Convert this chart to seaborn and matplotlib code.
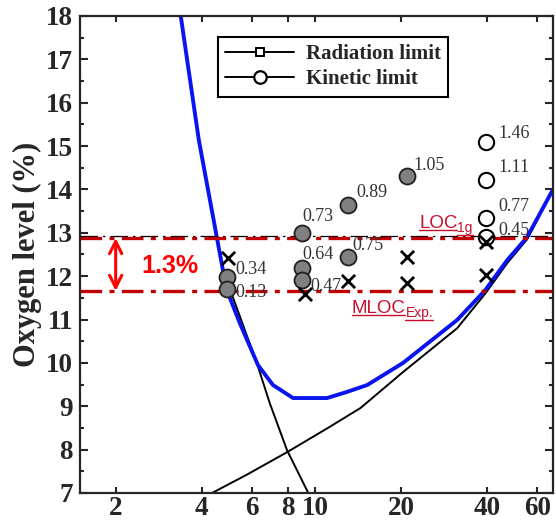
import matplotlib
matplotlib.use("Agg")
import matplotlib.pyplot as plt
from matplotlib.lines import Line2D
from matplotlib.ticker import FixedLocator, FixedFormatter, MultipleLocator, NullLocator
import pandas as pd
import seaborn as sns

# ---- curves ----
blue_x = [3.38, 3.91, 4.82, 4.9, 5.44, 6.3, 7.11, 8.36, 11.0, 12.9, 15.2, 20.3, 31.4, 39.4, 47.0, 55.2, 68.0]
blue_y = [18.0, 15.14, 11.91, 11.68, 10.92, 9.95, 9.49, 9.19, 9.19, 9.33, 9.49, 10.0, 10.99, 11.68, 12.37, 12.9, 14.0]

rad_x = [3.38, 3.91, 4.82, 5.11, 6.24, 6.93, 7.96, 9.42]
rad_y = [18.0, 15.14, 11.91, 11.57, 10.0, 9.07, 7.99, 7.02]

kin_x = [4.35, 5.75, 7.96, 11.2, 14.4, 20.3, 31.4, 39.4, 47.0, 55.2, 68.0]
kin_y = [7.0, 7.42, 7.94, 8.52, 8.96, 9.79, 10.8, 11.6, 12.3, 12.85, 14.0]

# ---- points ----
gray_x = [4.9, 4.9, 9.0, 9.0, 9.0, 13.0, 13.0, 20.9]
gray_y = [11.99, 11.71, 13.0, 12.2, 11.92, 13.63, 12.45, 14.3]
gray_lbl = ["0.34", "0.13", "0.73", "0.64", "0.47", "0.89", "0.75", "1.05"]

white_x = [39.7, 39.7, 39.7, 39.7]
white_y = [15.09, 14.22, 13.34, 12.90]
white_lbl = ["1.46", "1.11", "0.77", "0.45"]

cross_x = [4.95, 9.2, 13.0, 20.9, 20.9, 39.7, 39.7]
cross_y = [12.41, 11.6, 11.88, 12.45, 11.85, 12.79, 12.03]

loc_1g = 12.88
mloc_exp = 11.66
loc_ref = 12.93

xticks = [2, 4, 6, 8, 10, 20, 40, 60]

# label offsets in points (style only)
gray_off = [(6.5, 5), (6.5, -3), (0, 11.5), (0, 9.4), (5.8, -5), (6.5, 9.4), (3, 8), (5, 8)]
white_off = [(8.6, 6.5), (8.6, 8.6), (8.6, 8.6), (8.6, 5)]

sns.set_style("ticks")
plt.rcParams['font.family'] = ['Liberation Serif', 'DejaVu Serif']
plt.rcParams['axes.linewidth'] = 1.6

fig = plt.figure(figsize=(5.56, 5.22), dpi=100)
ax = fig.add_axes([80 / 556, 1 - 493 / 522, 473 / 556, 477 / 522])
ax.set_xscale("log")

sns.lineplot(x=rad_x, y=rad_y, ax=ax, color="black", lw=1.4, sort=False, estimator=None)
sns.lineplot(x=kin_x, y=kin_y, ax=ax, color="black", lw=1.4, sort=False, estimator=None)
sns.lineplot(x=blue_x, y=blue_y, ax=ax, color="#0a14f0", lw=2.8, sort=False, estimator=None)

ax.axhline(loc_ref, color="black", lw=0.9, dashes=(14, 4, 2, 4))
ax.axhline(loc_1g, color="#c00000", lw=2.4, dashes=(6.5, 2.2, 1.5, 2.2))
ax.axhline(mloc_exp, color="#c00000", lw=2.4, dashes=(6.5, 2.2, 1.5, 2.2))

sns.scatterplot(x=gray_x, y=gray_y, ax=ax, s=11.5 ** 2, color="#808080",
                edgecolor="#202020", linewidth=1.3, zorder=5)
sns.scatterplot(x=white_x, y=white_y, ax=ax, s=11 ** 2, color="white",
                edgecolor="black", linewidth=1.5, zorder=5)
sns.scatterplot(x=cross_x, y=cross_y, ax=ax, s=9.5 ** 2, marker="x", color="black",
                linewidth=2.0, zorder=6)

for x, y, t, off in zip(gray_x, gray_y, gray_lbl, gray_off):
    ax.annotate(t, (x, y), xytext=off, textcoords="offset points", ha="left",
                va="center", fontsize=13, color="#333333", zorder=7)
for x, y, t, off in zip(white_x, white_y, white_lbl, white_off):
    ax.annotate(t, (x, y), xytext=off, textcoords="offset points", ha="left",
                va="center", fontsize=13, color="#333333", zorder=7)

# 1.3 % arrow
ax.annotate("", xy=(2.0, loc_1g), xytext=(2.0, mloc_exp),
            arrowprops=dict(arrowstyle="<->", color="#ff0000", lw=2.2,
                            mutation_scale=22, shrinkA=0, shrinkB=0))
ax.text(3.09, 12.23, "1.3%", color="#ff0000", fontsize=18, fontweight="bold",
        family="Liberation Sans", ha="center", va="center")

ax.set_xlim(1.5, 68)
ax.set_ylim(7, 18)
ax.xaxis.set_major_locator(FixedLocator(xticks))
ax.xaxis.set_major_formatter(FixedFormatter([str(t) for t in xticks]))
ax.xaxis.set_minor_locator(NullLocator())
ax.yaxis.set_major_locator(MultipleLocator(1))
ax.yaxis.set_minor_locator(MultipleLocator(0.5))
ax.tick_params(axis="both", which="both", direction="in", top=True, right=True,
               width=1.5, labelsize=19.5)
ax.tick_params(axis="x", which="major", length=4.5, pad=2)
ax.tick_params(axis="y", which="major", length=6, pad=5)
ax.tick_params(axis="y", which="minor", length=3)
for lab in ax.get_xticklabels() + ax.get_yticklabels():
    lab.set_fontweight("bold")

ax.set_xlabel("")
ax.set_ylabel("Oxygen level (%)", fontsize=22, fontweight="bold", labelpad=3)

handles = [
    Line2D([], [], color="black", lw=1.4, marker="s", ms=6, mfc="white", mec="black", mew=1.4),
    Line2D([], [], color="black", lw=1.4, marker="o", ms=9, mfc="white", mec="black", mew=1.6),
]
leg = ax.legend(handles, ["Radiation limit", "Kinetic limit"], loc="upper left",
                bbox_to_anchor=(0.292, 0.956), borderaxespad=0, fancybox=False,
                framealpha=1, edgecolor="black", handlelength=3.3, handletextpad=0.55,
                borderpad=0.35, labelspacing=0.25,
                prop={"family": "Liberation Serif", "weight": "bold", "size": 15})
leg.get_frame().set_linewidth(1.5)

# LOC / MLOC labels with underline
red = "#c8102e"
fig.canvas.draw()
r = fig.canvas.get_renderer()


def underlined(x, y, main, sub):
    t1 = ax.text(x, y, main, color=red, fontsize=13.5, family="Liberation Sans",
                 ha="left", va="baseline", zorder=8)
    bb1 = t1.get_window_extent(r)
    t2 = ax.annotate(sub, (x, y), xytext=(bb1.x1 - ax.transData.transform((x, y))[0], -4),
                     textcoords="offset pixels", color=red, fontsize=10,
                     family="Liberation Sans", ha="left", va="baseline", zorder=8)
    bb2 = t2.get_window_extent(r)
    inv = ax.transData.inverted()
    base = ax.transData.transform((x, y))[1]
    for xa, xb, yy in [(bb1.x0, bb1.x1, base - 2), (bb2.x0, bb2.x1, base - 7)]:
        p0 = inv.transform((xa, yy))
        p1 = inv.transform((xb, yy))
        ax.plot([p0[0], p1[0]], [p0[1], p1[1]], color=red, lw=1.0, zorder=8)


underlined(23.1, 13.11, "LOC", "1g")
underlined(13.4, 11.15, "MLOC", "Exp.")

fig.savefig("out.png", dpi=100)
